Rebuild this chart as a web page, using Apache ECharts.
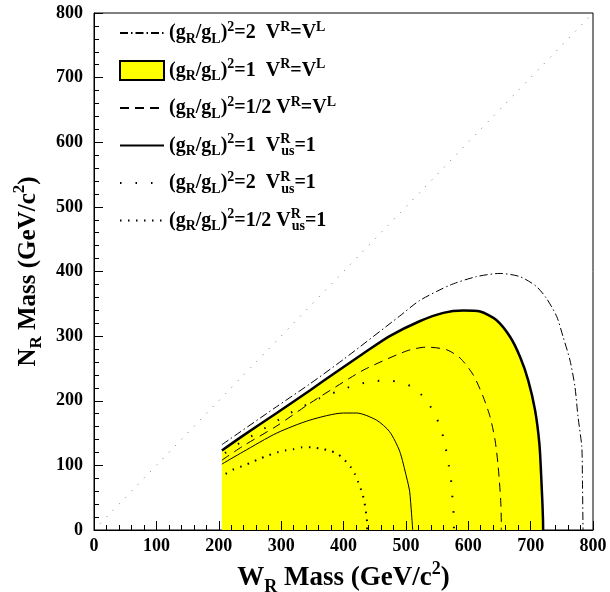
<!DOCTYPE html>
<html>
<head>
<meta charset="utf-8">
<script src="https://cdn.jsdelivr.net/npm/echarts@6/dist/echarts.min.js"></script>
<style>html,body{margin:0;padding:0;background:#fff}#c{width:610px;height:592px}</style>
</head>
<body>
<div id="c"></div>
<script>
// Axis ticks
const xTicks = [0, 100, 200, 300, 400, 500, 600, 700, 800];
const yTicks = [0, 100, 200, 300, 400, 500, 600, 700, 800];

// Series names (legend labels)
const names = [
  'g2_VRVL',
  'g1_VRVL',
  'gh_VRVL',
  'g1_Vus',
  'g2_Vus',
  'gh_Vus'
];

// (gR/gL)^2=1 VR=VL  (yellow region)
const yelX = [205, 239, 293, 346, 389, 430, 474, 522, 560, 592, 619, 645, 667, 683, 696, 707, 714, 717, 720, 720];
const yelY = [123, 146, 181, 216, 245, 272, 300, 323, 336, 339.5, 338, 325, 299, 268, 232, 186, 134, 82, 5, 0];

// (gR/gL)^2=2 VR=VL (dash-dot)
const ddX = [205, 293, 346, 400, 490, 522, 571, 613, 651, 683, 709, 725, 742, 752, 763, 771, 776, 782, 783, 784];
const ddY = [132, 191, 226, 264, 331, 355, 379, 392, 397, 392, 377, 359, 330, 299, 263, 222, 175, 129, 83, 0];

// (gR/gL)^2=1/2 VR=VL (dashed)
const daX = [205, 239, 293, 346, 410, 437, 501, 533, 565, 587, 608, 624, 635, 643, 648, 652, 653, 653];
const daY = [108, 130, 161, 196, 235, 250, 277, 283, 279, 266, 240, 206, 175, 139, 98, 46, 10, 0];

// (gR/gL)^2=1 Vus=1 (solid)
const soX = [205, 239, 293, 346, 400, 421, 453, 474, 490, 501, 506, 509, 511];
const soY = [102, 121, 150, 170, 181, 181, 170, 152, 122, 82, 60, 26, 0];

// (gR/gL)^2=2 Vus=1 (sparse dots)
const d2X = [210, 234, 261, 309, 335, 362, 389, 415, 445, 474, 509, 530, 546, 557, 564, 569, 573, 575, 577, 577];
const d2Y = [119, 135, 150, 178, 191, 204, 214, 223, 230, 231, 222, 204, 180, 154, 126, 99, 72, 44, 15, 0];

// (gR/gL)^2=1/2 Vus=1 (dense dots)
const dhX = [211, 224, 238, 251, 265, 278, 293, 306, 319, 334, 349, 363, 377, 390, 401, 411, 418, 424, 429, 433, 435, 437, 438, 438];
const dhY = [87, 94, 99, 104, 110, 115, 120, 123, 125, 128, 128, 126, 123, 118, 109, 98, 87, 73, 60, 46, 34, 20, 8, 0];

// Diagonal y = x
const diagX = [0, 800];
const diagY = [0, 800];

function zip(xs, ys) { return xs.map((x, i) => [x, ys[i]]); }

const FONT = '"Liberation Serif", "Times New Roman", serif';

const legendText = {
  g2_VRVL: '(g{sub|R}/g{sub|L}){sup|2}=2  V{sup|R}=V{sup|L}',
  g1_VRVL: '(g{sub|R}/g{sub|L}){sup|2}=1  V{sup|R}=V{sup|L}',
  gh_VRVL: '(g{sub|R}/g{sub|L}){sup|2}=1/2 V{sup|R}=V{sup|L}',
  g1_Vus: '(g{sub|R}/g{sub|L}){sup|2}=1  V{supz|R}{sub|us}=1',
  g2_Vus: '(g{sub|R}/g{sub|L}){sup|2}=2  V{supz|R}{sub|us}=1',
  gh_Vus: '(g{sub|R}/g{sub|L}){sup|2}=1/2 V{supz|R}{sub|us}=1'
};

const legRich = {
  sub: { fontFamily: FONT, fontWeight: 'bold', fontSize: 14, verticalAlign: 'bottom', color: '#000' },
  sup: { fontFamily: FONT, fontWeight: 'bold', fontSize: 14, verticalAlign: 'top', color: '#000' },
  supz: { fontFamily: FONT, fontWeight: 'bold', fontSize: 14, verticalAlign: 'top', color: '#000', width: 1 }
};

function nameRich(sz) {
  return {
    sub: { fontFamily: FONT, fontWeight: 'bold', fontSize: sz, verticalAlign: 'bottom', color: '#000' },
    sup: { fontFamily: FONT, fontWeight: 'bold', fontSize: sz, verticalAlign: 'top', color: '#000' }
  };
}

function lineSeries(name, xs, ys, style, extra) {
  return Object.assign({
    name: name,
    type: 'line',
    data: zip(xs, ys),
    symbol: 'none',
    smooth: 0.25,
    color: '#000',
    lineStyle: Object.assign({ color: '#000', width: 1 }, style),
    silent: true,
    z: 3
  }, extra || {});
}

const chart = echarts.init(document.getElementById('c'), null, { renderer: 'canvas' });

const axisCommon = {
  type: 'value',
  min: 0,
  max: 800,
  interval: 100,
  z: 5,
  axisLine: { show: true, onZero: false, lineStyle: { color: '#000', width: 1 } },
  axisTick: { show: true, inside: true, length: 9, lineStyle: { color: '#000', width: 1 } },
  minorTick: { show: true, splitNumber: 5, length: 5, lineStyle: { color: '#000', width: 1 } },
  splitLine: { show: false },
  minorSplitLine: { show: false },
  nameLocation: 'middle'
};

const noMark = { opacity: 0, borderWidth: 0 };

chart.setOption({
  animation: false,
  backgroundColor: '#fff',
  grid: {
    left: 94, right: 17, top: 13, bottom: 62,
    show: true, borderColor: '#000', borderWidth: 1,
    outerBoundsMode: 'none'
  },
  xAxis: Object.assign({}, axisCommon, {
    name: 'W{sub|R} Mass (GeV/c{sup|2})',
    nameGap: 25,
    nameTextStyle: {
      fontFamily: FONT, fontWeight: 'bold', fontSize: 27, color: '#000',
      lineHeight: 36, rich: nameRich(18)
    },
    axisLabel: {
      fontFamily: FONT, fontWeight: 'bold', fontSize: 18, color: '#000', margin: 7,
      formatter: v => (xTicks.indexOf(v) >= 0 ? String(v) : '')
    }
  }),
  yAxis: Object.assign({}, axisCommon, {
    name: 'N{sub|R} Mass (GeV/c{sup|2})',
    nameGap: 45,
    nameTextStyle: {
      fontFamily: FONT, fontWeight: 'bold', fontSize: 25, color: '#000',
      lineHeight: 34, rich: nameRich(17)
    },
    axisLabel: {
      fontFamily: FONT, fontWeight: 'bold', fontSize: 18, color: '#000', margin: 11,
      formatter: v => (yTicks.indexOf(v) >= 0 ? String(v) : '')
    }
  }),
  legend: {
    orient: 'vertical',
    left: 119,
    top: 20,
    padding: 0,
    itemWidth: 44,
    itemHeight: 19,
    itemGap: 11.5,
    selectedMode: false,
    textStyle: {
      fontFamily: FONT, fontWeight: 'bold', fontSize: 20, color: '#000',
      lineHeight: 26, rich: legRich
    },
    formatter: n => legendText[n],
    data: [
      { name: names[0], itemStyle: noMark },
      { name: names[1], icon: 'rect', itemStyle: { color: '#ffff00', borderColor: '#000', borderWidth: 2 } },
      { name: names[2], itemStyle: noMark },
      { name: names[3], itemStyle: noMark },
      { name: names[4], itemStyle: noMark },
      { name: names[5], itemStyle: noMark }
    ]
  },
  series: [
    lineSeries(names[1], yelX, yelY, { width: 2.5 }, {
      areaStyle: { color: '#ffff00', opacity: 1 },
      z: 2
    }),
    lineSeries('diag', diagX, diagY, { color: '#777', width: 1, type: [1, 8] }, { smooth: false }),
    lineSeries(names[0], ddX, ddY, { type: [8, 3, 1.5, 3] }),
    lineSeries(names[2], daX, daY, { type: [9, 6] }),
    lineSeries(names[3], soX, soY, {}),
    lineSeries(names[4], d2X, d2Y, { width: 2, type: [1.5, 14] }),
    lineSeries(names[5], dhX, dhY, { width: 2, type: [1.5, 6.5] })
  ]
});
</script>
</body>
</html>
